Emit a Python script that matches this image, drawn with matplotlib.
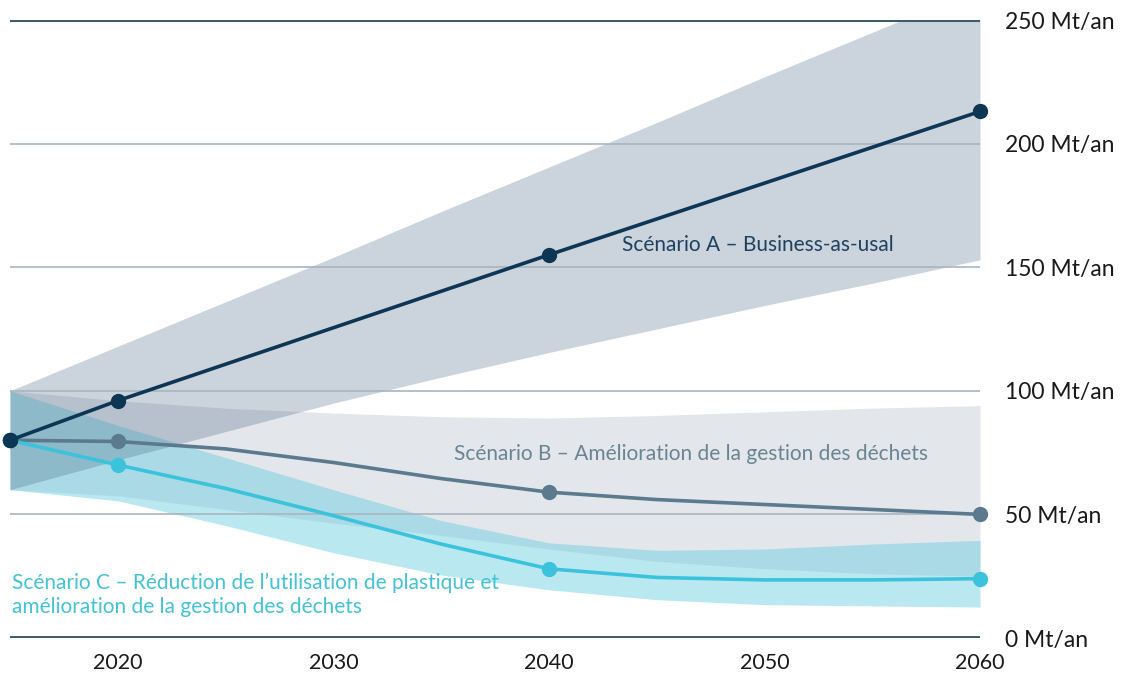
import numpy as np
import matplotlib
matplotlib.use('Agg')
from matplotlib import pyplot as plt

# years used for the bands and the smooth lines
years = [2015, 2020, 2025, 2030, 2035, 2040, 2045, 2050, 2055, 2060]

# scenario A (business as usual) - marked points only
a_years = [2015, 2020, 2040, 2060]
a_vals = [80, 96, 155, 213]
a_low = [60, 72, 83.5, 95, 105.5, 115.5, 125, 134.5, 143.5, 153]
a_high = [100, 118, 136, 154, 172.5, 190.5, 208.5, 227, 245, 263]

# scenario B
b_vals = [80, 79.5, 76.5, 71, 64.5, 59, 56, 54, 52, 50]
b_low = [60, 57.5, 52, 46.5, 41.5, 36, 31, 28, 26, 25]
b_high = [100, 96, 93, 91, 89.5, 89, 90, 91.5, 93, 94]

# scenario C
c_vals = [80, 70, 60.5, 49.5, 38, 28, 24.5, 23.5, 23.5, 24]
c_low = [60, 55.5, 45.5, 34.5, 25.5, 19.5, 15.5, 13.5, 13, 12.5]
c_high = [100, 86, 73, 60, 47.5, 38.5, 35.5, 36, 38, 39.5]

marked = [2015, 2020, 2040, 2060]

x_ticks = [2020, 2030, 2040, 2050, 2060]
y_ticks = [0, 50, 100, 150, 200, 250]
y_labels = ['0 Mt/an', '50 Mt/an', '100 Mt/an', '150 Mt/an', '200 Mt/an', '250 Mt/an']

plt.rcParams['font.family'] = ['Lato', 'DejaVu Sans']

fig = plt.figure(figsize=(11.25, 6.75), dpi=100)
ax = fig.add_axes([10 / 1125, 1 - 638 / 675, 970 / 1125, 618 / 675])

# bands
ax.fill_between(years, b_low, b_high, color=(100/255, 120/255, 140/255), alpha=0.18, lw=0, zorder=1)
ax.fill_between(years, c_low, c_high, color=(100/255, 205/255, 225/255), alpha=0.45, lw=0, zorder=1.1)
ax.fill_between(years, a_low, a_high, color=(70/255, 100/255, 130/255), alpha=0.28, lw=0, zorder=1.2)

# grid lines
for v in [50, 100, 150, 200]:
    ax.axhline(v, color='#a9b5bf', lw=1.2, zorder=2)
ax.axhline(250, color='#3f5a6c', lw=2.2, zorder=2)
ax.axhline(0, color='#3f5a6c', lw=2.8, zorder=2)

# lines
def pick(vals):
    return [vals[years.index(y)] for y in marked]

ax.plot(a_years, a_vals, color='#0d3554', lw=2.6, zorder=4, clip_on=False)
ax.plot(a_years, a_vals, 'o', color='#0d3554', ms=10, zorder=5, clip_on=False)
ax.plot(years, b_vals, color='#5b7a8e', lw=2.6, zorder=3, clip_on=False,
        solid_joinstyle='round')
ax.plot(marked, pick(b_vals), 'o', color='#5b7a8e', ms=10, zorder=3.5, clip_on=False)
ax.plot(years, c_vals, color='#3cc3dc', lw=2.6, zorder=3, clip_on=False,
        solid_joinstyle='round')
ax.plot(marked, pick(c_vals), 'o', color='#3cc3dc', ms=10, zorder=3.5, clip_on=False)
# first point is shared, drawn dark
ax.plot([2015], [80], 'o', color='#0d3554', ms=10, zorder=6, clip_on=False)

# labels
ax.text(2043.4, 159, 'Scénario A – Business-as-usal', color='#1f4160', fontsize=15,
        va='center', ha='left', zorder=6)
ax.text(2035.6, 74.4, 'Scénario B – Amélioration de la gestion des déchets', color='#6a8494',
        fontsize=15, va='center', ha='left', zorder=6)
ax.text(2015.1, 17.4, 'Scénario C – Réduction de l’utilisation de plastique et\n'
        'amélioration de la gestion des déchets', color='#45c1d4', fontsize=15,
        va='center', ha='left', linespacing=1.25, zorder=6)

ax.set_xlim(2015, 2060)
ax.set_ylim(0, 250)
ax.set_xticks(x_ticks)
ax.set_xticklabels([str(t) for t in x_ticks])
ax.set_yticks(y_ticks)
ax.set_yticklabels(y_labels)
ax.yaxis.tick_right()
ax.tick_params(axis='y', length=0, pad=18, labelsize=16.5, labelcolor='#1a1a1a')
ax.tick_params(axis='x', length=0, pad=11, labelsize=15.5, labelcolor='#1a1a1a')
for s in ax.spines.values():
    s.set_visible(False)

plt.savefig('out.png', dpi=100, facecolor='w')
